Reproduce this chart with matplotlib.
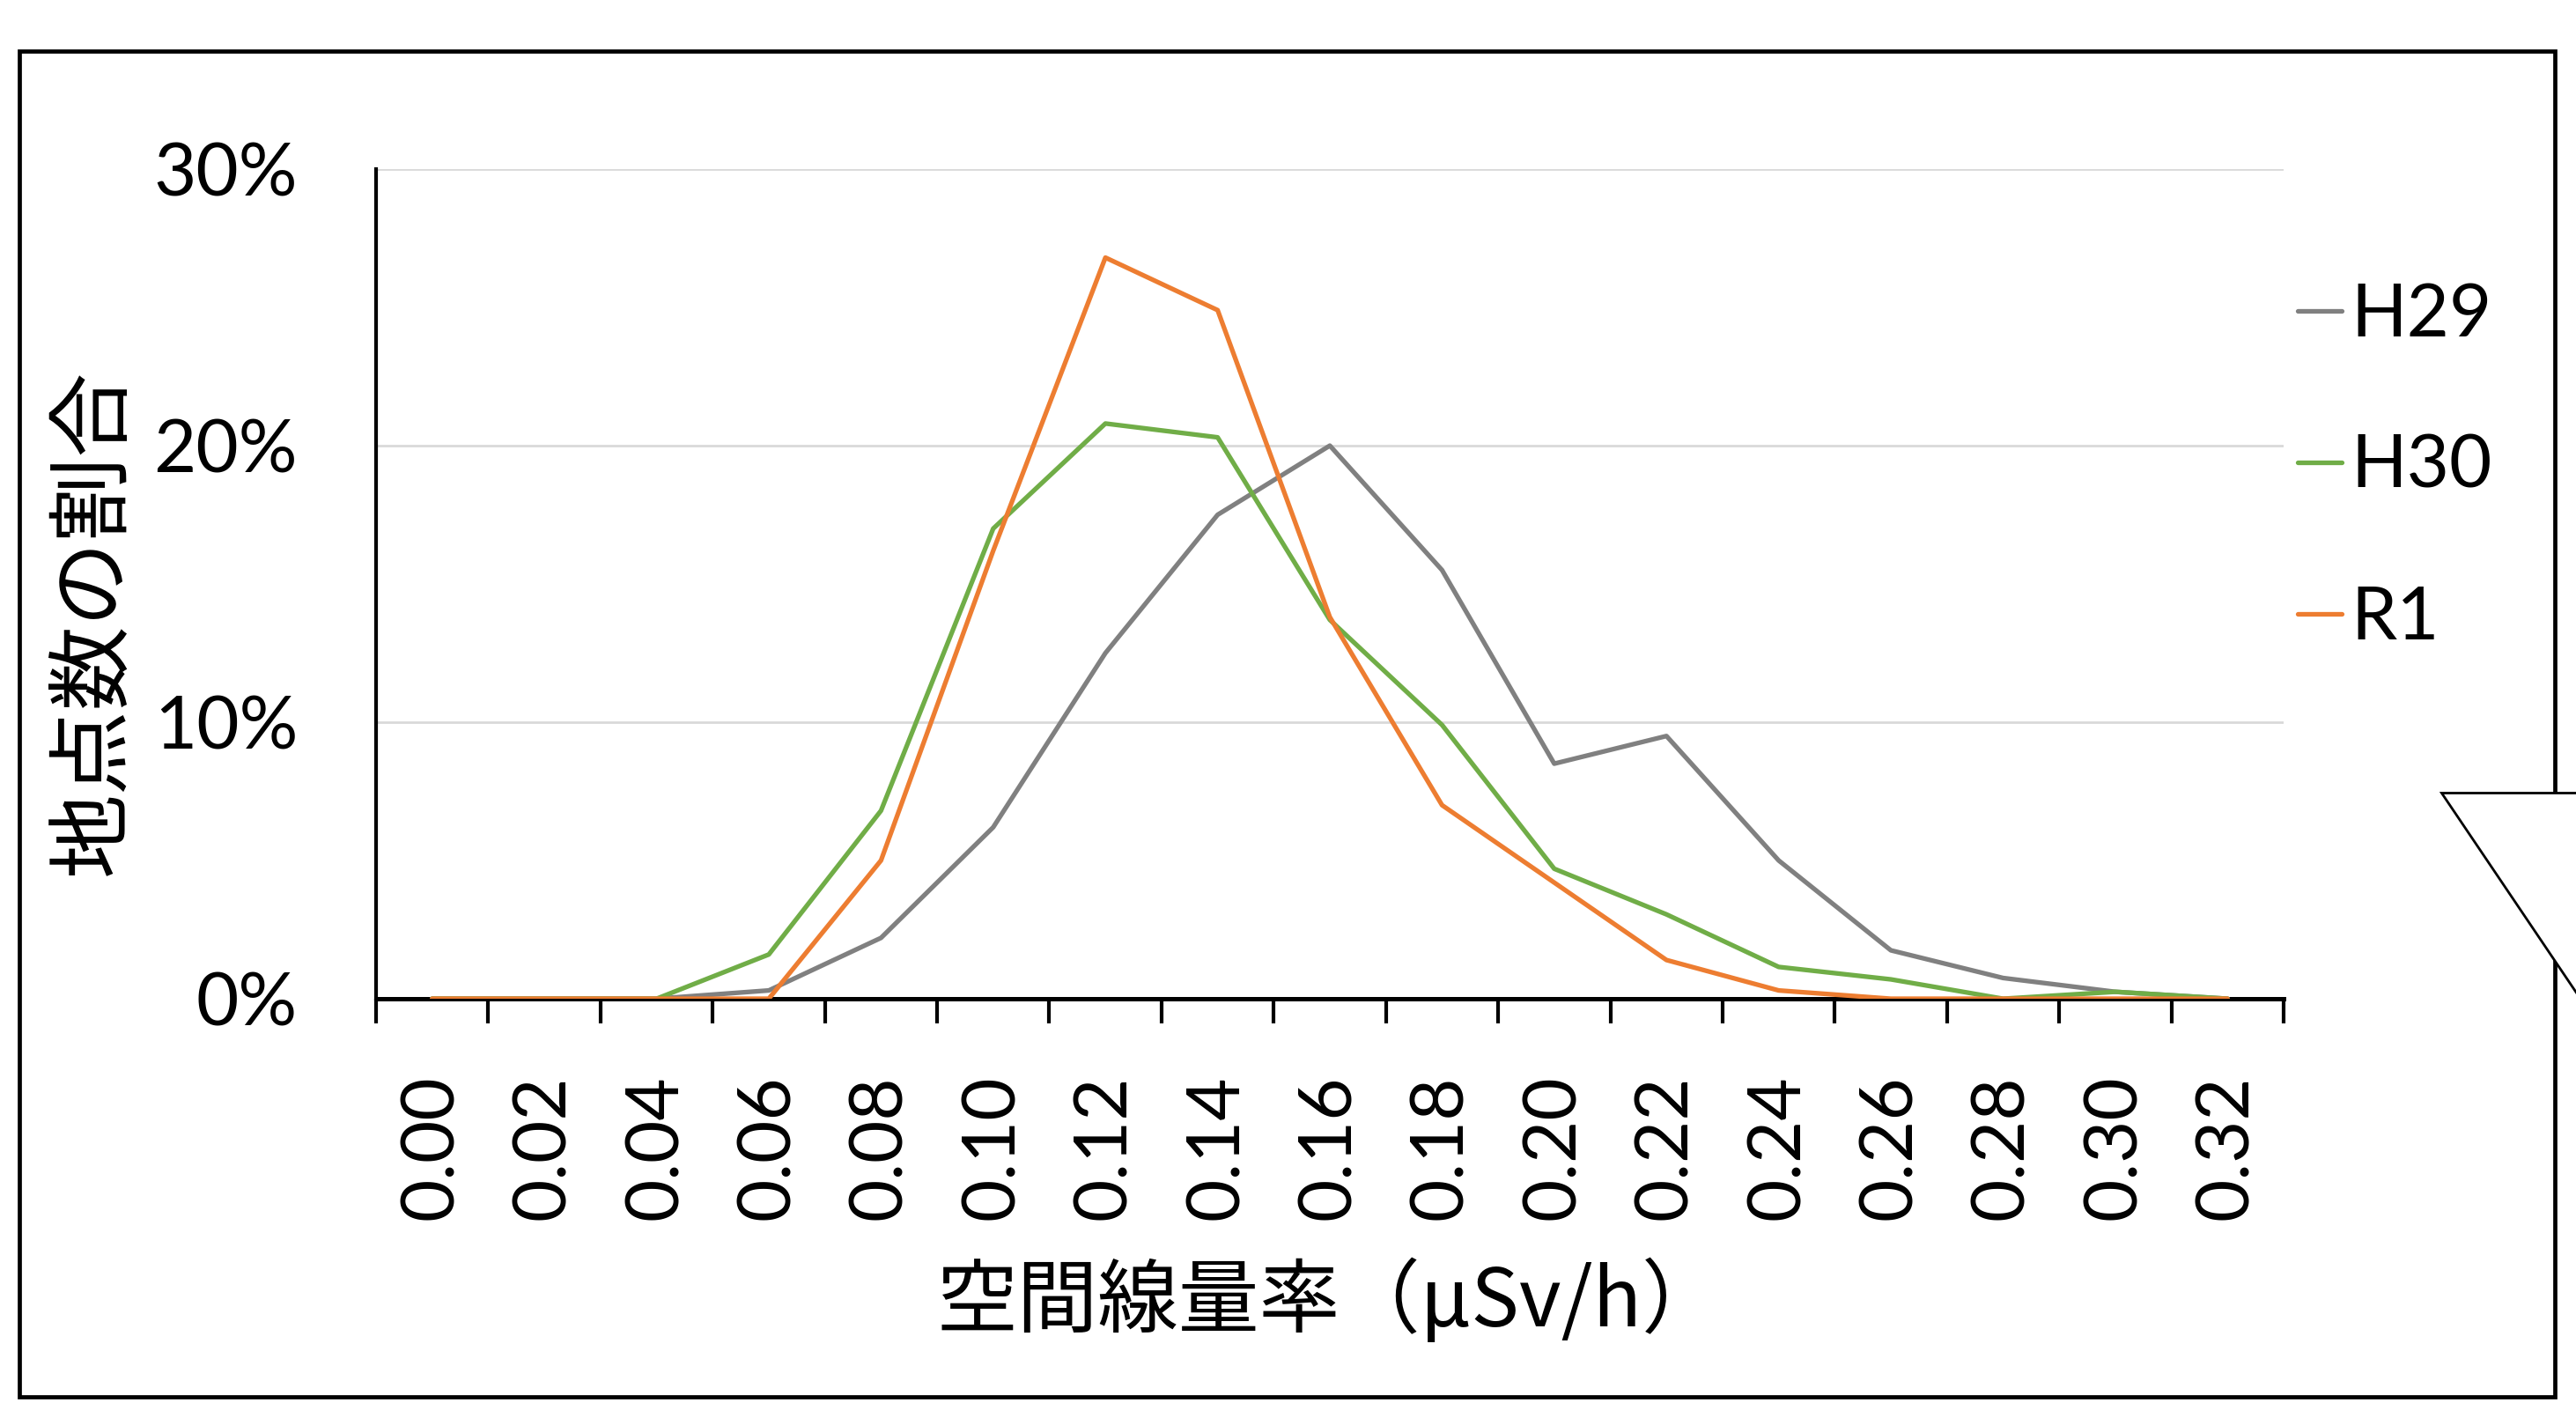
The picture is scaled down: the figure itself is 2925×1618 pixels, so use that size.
import matplotlib.pyplot as plt
from matplotlib.patches import Rectangle, Polygon
from matplotlib.ticker import PercentFormatter

# dose-rate classes (uSv/h) and share of sites per class
dose_rates = ['0.00', '0.02', '0.04', '0.06', '0.08', '0.10', '0.12', '0.14', '0.16',
              '0.18', '0.20', '0.22', '0.24', '0.26', '0.28', '0.30', '0.32']
h29 = [0.0, 0.0, 0.0, 0.3, 2.2, 6.2, 12.5, 17.5, 20.0, 15.5, 8.5, 9.5, 5.0, 1.75, 0.75, 0.25, 0.0]
h30 = [0.0, 0.0, 0.0, 1.6, 6.8, 17.0, 20.8, 20.3, 13.7, 9.9, 4.7, 3.05, 1.15, 0.7, 0.0, 0.25, 0.0]
r1 = [0.0, 0.0, 0.0, 0.0, 5.0, 16.2, 26.8, 24.9, 13.8, 7.0, 4.2, 1.4, 0.3, 0.0, 0.0, 0.0, 0.0]
series_names = ['H29', 'H30', 'R1']
y_ticks = [0, 10, 20, 30]

colors = ['#808080', '#70AD47', '#ED7D31']
cjk = ['Noto Sans CJK JP', 'DejaVu Sans']
num_font = 'Lato'

W, H, DPI = 2925, 1618, 200
fig = plt.figure(figsize=(W / DPI, H / DPI), dpi=DPI)

# plot area in pixel terms
left, right, top, bottom = 427, 2593, 192, 1134
ax = fig.add_axes([left / W, 1 - bottom / H, (right - left) / W, (bottom - top) / H])

x = range(len(dose_rates))
for vals, name, c in zip([h29, h30, r1], series_names, colors):
    ax.plot(x, vals, color=c, lw=1.9, label=name,
            solid_joinstyle='round', solid_capstyle='round', zorder=3)

ax.set_xlim(-0.5, len(dose_rates) - 0.5)
ax.set_ylim(0, 30)
ax.set_yticks(y_ticks)
ax.yaxis.set_major_formatter(PercentFormatter(decimals=0))
ax.grid(axis='y', color='#d9d9d9', lw=1.0, zorder=0)

# labels at category centres, tick marks on the boundaries
ax.set_xticks(list(x))
ax.set_xticklabels(dose_rates, rotation=90)
ax.set_xticks([i - 0.5 for i in range(len(dose_rates) + 1)], minor=True)
ax.tick_params(axis='x', which='major', length=0, pad=31, labelsize=30)
ax.tick_params(axis='x', which='minor', length=10, width=1.5, direction='out', color='black')
ax.tick_params(axis='y', length=0, pad=32, labelsize=30)
for lab in ax.get_xticklabels() + ax.get_yticklabels():
    lab.set_fontfamily(num_font)

for s in ['top', 'right']:
    ax.spines[s].set_visible(False)
ax.spines['left'].set_linewidth(1.5)
ax.spines['bottom'].set_linewidth(1.8)

fig.text(106 / W, 1 - 706 / H, '地点数の割合', rotation=90, ha='center', va='center',
         fontsize=34.5, family=cjk)
fig.text(1510 / W, 1 - 1479 / H, '空間線量率（µSv/h）', ha='center', va='center',
         fontsize=33, family=cjk)

leg = ax.legend(loc='center left', bbox_to_anchor=(2609 / W, 1 - 531 / H),
                bbox_transform=fig.transFigure, frameon=False, borderpad=0,
                borderaxespad=0, handlelength=0.6, handletextpad=0.12,
                labelspacing=1.15, prop={'family': num_font, 'size': 30})

# outer frame and the callout shape cutting into it on the right
fig.add_artist(Rectangle((22 / W, 1 - 1586 / H), (2901 - 22) / W, (1586 - 58) / H,
                         transform=fig.transFigure, fill=False, ec='black', lw=1.7))
pts = [(2772, 900), (3050, 900), (3050, 1312)]
fig.add_artist(Polygon([(px / W, 1 - py / H) for px, py in pts], closed=True,
                       transform=fig.transFigure, fc='white', ec='black', lw=1.0,
                       clip_on=False, zorder=5))

fig.savefig('out.png', dpi=DPI)
